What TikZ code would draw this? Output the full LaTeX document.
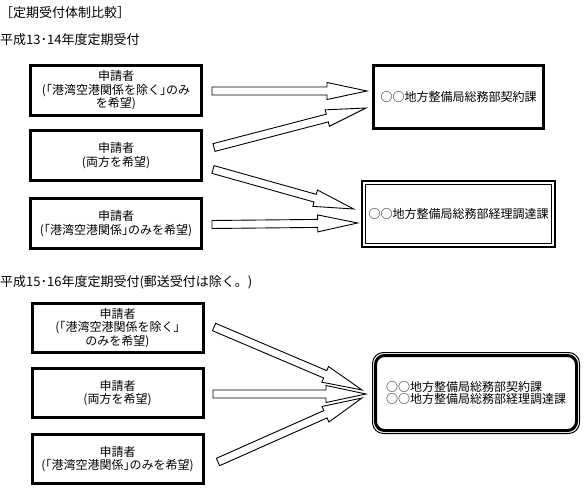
\documentclass[tikz,border=0pt]{standalone}
\usepackage{fontspec}
\setmainfont{Noto Sans CJK JP}
\usetikzlibrary{positioning,calc}
\newcommand{\blockarrow}[2]{%
  \coordinate (ba-h) at ($(#2)!40pt!(#1)$);
  \draw[flow] ($(#1)!4pt!90:(#2)$) -- ($(ba-h)!4pt!90:(#2)$)
    -- ($(ba-h)!8.5pt!90:(#2)$) -- (#2)
    -- ($(ba-h)!8.5pt!-90:(#2)$) -- ($(ba-h)!4pt!-90:(#2)$)
    -- ($(#1)!4pt!-90:(#2)$) -- cycle;}

\begin{document}
\begin{tikzpicture}[x=1pt, y=-1pt,
    head/.style={anchor=west, inner sep=0pt, font=\fontsize{13}{15}\selectfont},
    req/.style={draw, line width=3pt, minimum width=171pt, minimum height=50pt, align=center, font=\fontsize{12}{13.5}\selectfont},
    dept/.style={draw, align=center, font=\fontsize{12}{12.5}\selectfont},
    flow/.style={draw, fill=white, line width=0.9pt, line join=miter}
  ]
    \path[use as bounding box, fill=white] (0,0) rectangle (588,489);

    % 平成13・14年度
    \node[head] (title) at (0,13) {［定期受付体制比較］};
    \node[head] (era1) at (0,40) {平成13･14年度定期受付};
    \node[req] (req1) at (116,90.5) {申請者\\(｢港湾空港関係を除く｣のみ\\を希望)};
    \node[req, below=12pt of req1] (req2) {申請者\\(両方を希望)};
    \node[req, below=15pt of req2] (req3) {申請者\\(｢港湾空港関係｣のみを希望)};
    \node[dept, line width=3pt, minimum width=170pt, minimum height=63pt] (dept1) at (458.5,97) {○○地方整備局総務部契約課};
    \node[dept, line width=1pt, minimum width=168pt, minimum height=59pt] (dept2) at (458.5,214) {○○地方整備局総務部経理調達課};
    \draw[line width=2pt] ($(dept2.north west)+(-3,-3)$) rectangle ($(dept2.south east)+(3,3)$);

    % 平成15・16年度
    \node[head] (era2) at (0,282) {平成15･16年度定期受付(郵送受付は除く。)};
    \node[req, minimum height=49pt] (req4) at (117.5,328) {申請者\\(｢港湾空港関係を除く｣\\のみを希望)};
    \node[req, minimum height=49pt, below=13pt of req4] (req5) {申請者\\(両方を希望)};
    \node[req, minimum height=49pt, below=14pt of req5] (req6) {申請者\\(｢港湾空港関係｣のみを希望)};
    \node[dept, line width=3pt, rounded corners=9pt, minimum width=201pt, minimum height=75pt, align=left] (dest) at (476,393) {○○地方整備局総務部契約課\\○○地方整備局総務部経理調達課};
    \draw[rounded corners=11pt, line width=1pt] ($(dest.north west)+(-1.5,-1.5)$) rectangle ($(dest.south east)+(1.5,1.5)$);

    % arrow ends
    \coordinate (a1s) at ($(req1.east)+(9,0.5)$);
    \coordinate (a1t) at ($(dept1.west)+(-5,-6)$);
    \coordinate (a2s) at ($(req2.east)+(11,-8)$);
    \coordinate (a2t) at ($(dept1.west)+(-6,11)$);
    \coordinate (a3s) at ($(req2.east)+(10,14)$);
    \coordinate (a3t) at ($(dept2.west)+(-11,-5)$);
    \coordinate (a4s) at ($(req3.east)+(9,1)$);
    \coordinate (a4t) at ($(dept2.west)+(-7,9)$);
    \coordinate (b1s) at ($(req4.east)+(9.5,-1)$);
    \coordinate (b1t) at ($(dest.west)+(-12,-3)$);
    \coordinate (b2s) at ($(req5.east)+(8.5,1)$);
    \coordinate (b2t) at ($(dest.west)+(-8,1)$);
    \coordinate (b3s) at ($(req6.east)+(13.5,3)$);
    \coordinate (b3t) at ($(dest.west)+(-12,5)$);

    \foreach \s/\t in {a1s/a1t, a2s/a2t, a3s/a3t, a4s/a4t, b1s/b1t, b2s/b2t, b3s/b3t}
      \blockarrow{\s}{\t};
  \end{tikzpicture}
\end{document}
